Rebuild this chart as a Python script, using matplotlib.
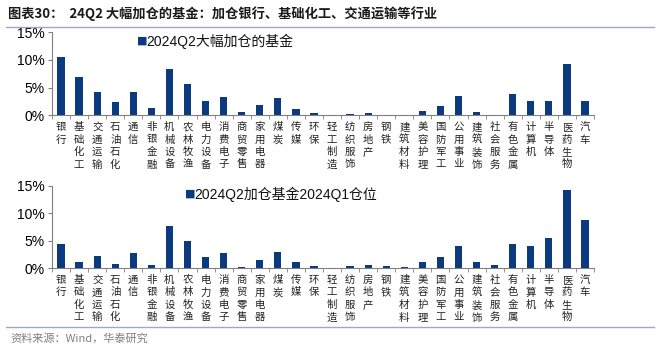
import numpy as np
import matplotlib
matplotlib.use('Agg')
import matplotlib.pyplot as plt
from matplotlib.ticker import FuncFormatter, FixedLocator

# Dades
INDUSTRIES = ['银行', '基础化工', '交通运输', '石油石化', '通信', '非银金融', '机械设备',
              '农林牧渔', '电力设备', '消费电子', '商贸零售', '家用电器', '煤炭', '传媒',
              '环保', '轻工制造', '纺织服饰', '房地产', '钢铁', '建筑材料', '美容护理',
              '国防军工', '公用事业', '建筑装饰', '社会服务', '有色金属', '计算机',
              '半导体', '医药生物', '汽车']
# 2024Q2 大幅加仓的基金 (%)
q2_add = [10.5, 6.9, 4.2, 2.35, 4.15, 1.3, 8.3, 5.6, 2.5, 3.3, 0.65, 1.85, 3.1, 1.1,
          0.4, 0.05, 0.25, 0.4, 0.12, 0.0, 0.7, 1.6, 3.5, 0.55, 0.0, 3.8, 2.5,
          2.65, 9.3, 2.65]
# 2024Q2 加仓基金 2024Q1 仓位 (%)
q1_pos = [4.4, 1.1, 2.1, 0.8, 2.8, 0.55, 7.6, 4.9, 1.95, 2.7, 0.15, 1.5, 3.0, 1.05,
          0.35, 0.05, 0.3, 0.55, 0.3, 0.1, 1.1, 2.0, 3.95, 1.05, 0.5, 4.35, 4.05,
          5.45, 14.15, 8.75]
LEGENDS = ['2024Q2大幅加仓的基金', '2024Q2加仓基金2024Q1仓位']

BAR_COLOR = '#0B3A7E'
LINE_COLOR = '#9AAAC4'
CJK = ['Noto Sans CJK SC', 'DejaVu Sans']
LAT = ['Liberation Sans', 'Noto Sans CJK SC']

plt.rcParams['font.family'] = CJK

W, H = 660, 347
fig = plt.figure(figsize=(W/100, H/100), dpi=100)

def px(x0, y_top, x1, y_base):
	'''Converteix pixels a coordenades de figura'''
	return [x0/W, 1 - y_base/H, (x1 - x0)/W, (y_base - y_top)/H]

def dibuixa(rect, vals, label, leg_xy):
	ax = fig.add_axes(rect)
	x = np.arange(len(INDUSTRIES))
	ax.bar(x, vals, width=0.4, color=BAR_COLOR, zorder=2)
	ax.set_xlim(-0.5, len(INDUSTRIES) - 0.5)
	ax.set_ylim(0, 15)
	ax.set_yticks([0, 5, 10, 15])
	ax.yaxis.set_major_formatter(FuncFormatter(lambda v, p: '%d%%' % v))
	for s in ['top', 'right']:
		ax.spines[s].set_visible(False)
	for s in ['left', 'bottom']:
		ax.spines[s].set_color('#808080')
		ax.spines[s].set_linewidth(0.8)
	ax.tick_params(axis='y', length=3, color='#808080', labelsize=10, pad=2)
	for t in ax.get_yticklabels():
		t.set_family(LAT)
	ax.set_xticks(x)
	ax.set_xticklabels(['\n'.join(n) for n in INDUSTRIES], fontsize=7.5,
	                   linespacing=1.3, va='top', color='#222222')
	ax.tick_params(axis='x', which='major', length=0, pad=5)
	ax.xaxis.set_minor_locator(FixedLocator(np.arange(-0.5, len(INDUSTRIES), 1.0)))
	ax.tick_params(axis='x', which='minor', length=3, color='#808080')
	# Llegenda
	fig.text(leg_xy[0]/W, 1 - leg_xy[1]/H, '\u25A0', fontsize=8, color=BAR_COLOR,
	         family=['DejaVu Sans'], va='center')
	fig.text((leg_xy[0] + 9)/W, 1 - leg_xy[1]/H, label, fontsize=10,
	         family=LAT, va='center', color='#111111')
	return ax

dibuixa(px(52, 32.3, 594, 115.3), q2_add, LEGENDS[0], (137, 41))
dibuixa(px(52, 185.7, 594, 268), q1_pos, LEGENDS[1], (185, 194))

# Titol i linies
fig.text(8/W, 1 - 14/H, '图表30：  24Q2 大幅加仓的基金：加仓银行、基础化工、交通运输等行业',
         fontsize=9.5, fontweight='bold', family=CJK, va='center', color='#1a1a1a')
fig.add_artist(plt.Line2D([6/W, 654/W], [1 - 27/H, 1 - 27/H], color=LINE_COLOR, lw=1))
fig.add_artist(plt.Line2D([6/W, 654/W], [1 - 327/H, 1 - 327/H], color=LINE_COLOR, lw=1))
fig.text(10/W, 1 - 338/H, '资料来源：Wind，华泰研究', fontsize=8, family=CJK,
         va='center', color='#7f7f7f')

plt.savefig('out.png', dpi=100)
plt.close()
